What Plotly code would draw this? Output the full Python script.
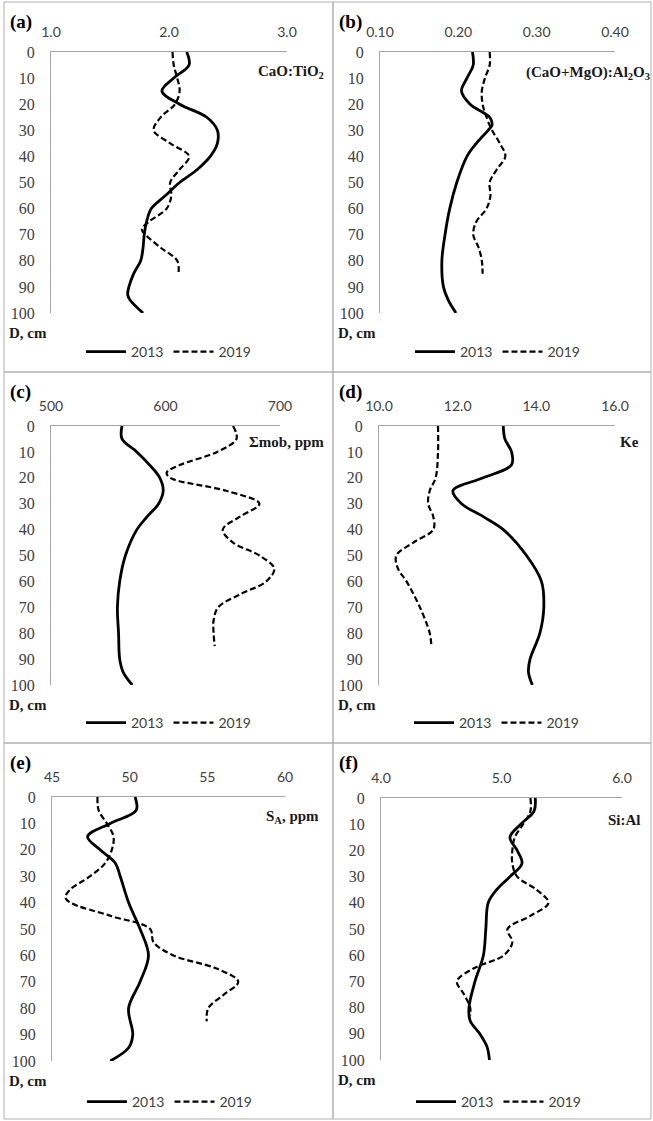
import plotly.graph_objects as go

W, H = 653, 1121

# ---------------- data ----------------
# (a) CaO:TiO2
a13_d = [0, 5, 10, 15, 20, 25, 30, 35, 40, 45, 50, 55, 60, 65, 70, 75, 80, 85, 90, 93, 95, 100]
a13_v = [2.15, 2.17, 2.04, 1.94, 2.09, 2.32, 2.41, 2.41, 2.35, 2.24, 2.09, 1.97, 1.85, 1.81, 1.79, 1.78, 1.76, 1.70, 1.66, 1.65, 1.67, 1.78]
a19_d = [0, 5, 10, 15, 20, 25, 30, 35, 40, 45, 50, 55, 60, 65, 68, 70, 75, 80, 85]
a19_v = [2.03, 2.04, 2.07, 2.09, 2.05, 1.93, 1.87, 2.01, 2.17, 2.09, 2.01, 2.02, 1.98, 1.83, 1.77, 1.80, 1.93, 2.07, 2.08]

# (b) (CaO+MgO):Al2O3
b13_d = [0, 5, 10, 15, 20, 25, 28, 30, 35, 40, 50, 60, 70, 80, 90, 95, 100]
b13_v = [0.218, 0.219, 0.211, 0.204, 0.215, 0.240, 0.243, 0.238, 0.223, 0.211, 0.198, 0.189, 0.183, 0.179, 0.181, 0.187, 0.197]
b19_d = [0, 5, 10, 15, 20, 25, 30, 35, 40, 45, 50, 55, 60, 65, 70, 75, 80, 85]
b19_v = [0.240, 0.240, 0.234, 0.230, 0.231, 0.236, 0.243, 0.253, 0.260, 0.249, 0.240, 0.241, 0.236, 0.223, 0.219, 0.226, 0.230, 0.231]

# (c) Σmob, ppm
c13_d = [0, 5, 10, 15, 20, 25, 30, 35, 40, 50, 60, 70, 80, 90, 95, 100]
c13_v = [562, 562, 575, 586, 595, 598, 594, 584, 575, 565, 560, 558, 559, 560, 563, 571]
c19_d = [0, 5, 10, 15, 18, 20, 25, 30, 35, 40, 45, 50, 55, 60, 65, 70, 75, 80, 85]
c19_v = [659, 662, 645, 613, 601, 604, 653, 682, 665, 650, 659, 682, 695, 688, 665, 646, 642, 642, 643]

# (d) Ke
d13_d = [0, 5, 10, 15, 20, 25, 30, 35, 40, 50, 60, 70, 80, 90, 95, 100]
d13_v = [13.16, 13.20, 13.37, 13.37, 12.65, 11.88, 12.10, 12.65, 13.16, 13.75, 14.13, 14.19, 14.09, 13.84, 13.80, 13.90]
d19_d = [0, 10, 20, 25, 30, 35, 40, 45, 50, 55, 60, 70, 80, 85]
d19_v = [11.50, 11.50, 11.44, 11.29, 11.25, 11.38, 11.38, 10.87, 10.44, 10.48, 10.70, 11.04, 11.29, 11.33]

# (e) SA, ppm
e13_d = [0, 5, 10, 15, 20, 25, 30, 40, 50, 60, 70, 80, 90, 95, 100]
e13_v = [50.35, 50.42, 48.75, 47.29, 48.10, 49.07, 49.39, 49.93, 50.67, 51.21, 50.67, 49.93, 50.20, 49.93, 48.75]
e19_d = [0, 5, 10, 15, 20, 25, 30, 35, 38, 40, 45, 50, 55, 60, 65, 70, 75, 80, 85]
e19_v = [47.93, 48.00, 48.53, 48.96, 48.85, 48.43, 47.46, 46.18, 45.86, 46.18, 48.75, 51.32, 51.53, 52.82, 55.60, 56.99, 56.03, 55.06, 54.96]

# (f) Si:Al
f13_d = [0, 5, 10, 15, 20, 25, 30, 35, 40, 50, 60, 70, 80, 85, 90, 95, 100]
f13_v = [5.28, 5.27, 5.16, 5.07, 5.13, 5.17, 5.07, 4.96, 4.89, 4.87, 4.85, 4.78, 4.73, 4.74, 4.82, 4.88, 4.90]
f19_d = [0, 5, 10, 15, 20, 25, 30, 35, 40, 45, 50, 55, 60, 65, 70, 75, 80, 83]
f19_v = [5.24, 5.24, 5.18, 5.11, 5.09, 5.09, 5.13, 5.29, 5.39, 5.24, 5.05, 5.09, 5.02, 4.77, 4.63, 4.69, 4.74, 4.74]

series_names = ["2013", "2019"]
panel_letters = ["(a)", "(b)", "(c)", "(d)", "(e)", "(f)"]
panel_titles = ["CaO:TiO<sub>2</sub>", "(CaO+MgO):Al<sub>2</sub>O<sub>3</sub>",
                "Σmob, ppm", "Ke", "S<sub>A</sub>, ppm", "Si:Al"]
x_ranges = [[1.0, 3.0], [0.10, 0.40], [500, 700], [10.0, 16.0], [45, 60], [4.0, 6.0]]
x_dticks = [1.0, 0.10, 100, 2.0, 5, 1.0]
x_formats = [".1f", ".2f", "d", ".1f", "d", ".1f"]
depth_label = "D, cm"

data = [(a13_d, a13_v, a19_d, a19_v), (b13_d, b13_v, b19_d, b19_v),
        (c13_d, c13_v, c19_d, c19_v), (d13_d, d13_v, d19_d, d19_v),
        (e13_d, e13_v, e19_d, e19_v), (f13_d, f13_v, f19_d, f19_v)]

# ---------------- layout geometry (pixels) ----------------
areas = [(51, 287, 52, 313), (380, 615, 52, 313),
         (51, 280, 426, 685), (379, 615, 426, 685),
         (52, 285, 797, 1061), (381, 622, 798, 1060)]
frames = [(4, 333, 2, 372), (333, 651, 2, 372),
          (4, 333, 372, 743), (333, 651, 372, 743),
          (4, 333, 743, 1119), (333, 651, 743, 1119)]
title_pos = [(326, 72), (652, 73), (326, 442), (641, 442), (321, 817), (643, 820)]
legend_y = [352, 352, 723, 723, 1102, 1102]


def px(x):
    return x / W


def py(y):
    return 1 - y / H


fig = go.Figure()
annotations = []
shapes = []
layout_axes = {}

GRAY_TXT = "#404040"
AXIS_GRAY = "#a6a6a6"

for i in range(6):
    n = "" if i == 0 else str(i + 1)
    xa, ya = "x" + n, "y" + n
    lg = "legend" + n
    d13, v13, d19, v19 = data[i]
    fig.add_trace(go.Scatter(x=v13, y=d13, mode="lines", name=series_names[0],
                             line=dict(color="black", width=2.8, shape="spline", smoothing=1.0),
                             xaxis=xa, yaxis=ya, legend=lg, showlegend=True))
    fig.add_trace(go.Scatter(x=v19, y=d19, mode="lines", name=series_names[1],
                             line=dict(color="black", width=2.2, dash="6px,3px", shape="spline", smoothing=1.0),
                             xaxis=xa, yaxis=ya, legend=lg, showlegend=True))
    L, R, T, B = areas[i]
    layout_axes["xaxis" + n] = dict(
        domain=[px(L), px(R)], range=x_ranges[i], side="top", anchor=ya, automargin=False,
        showline=True, linecolor=AXIS_GRAY, linewidth=1, showgrid=False, zeroline=False,
        ticks="", tickmode="linear", tick0=x_ranges[i][0], dtick=x_dticks[i],
        tickformat=x_formats[i], ticklabelstandoff=8,
        tickfont=dict(family="Lato", size=14, color=GRAY_TXT), fixedrange=True)
    layout_axes["yaxis" + n] = dict(
        domain=[py(B), py(T)], range=[100, 0], anchor=xa, automargin=False,
        showline=True, linecolor=AXIS_GRAY, linewidth=1, showgrid=False, zeroline=False,
        ticks="", tickmode="linear", tick0=0, dtick=10, ticklabelstandoff=12,
        tickfont=dict(family="Liberation Serif", size=16, color=GRAY_TXT), fixedrange=True)
    layout_axes[lg] = dict(
        orientation="h", x=px(L + 30), y=py(legend_y[i]), xanchor="left", yanchor="middle",
        xref="paper", yref="paper", bgcolor="rgba(0,0,0,0)", borderwidth=0,
        font=dict(family="Lato", size=14, color=GRAY_TXT), itemwidth=40)

    fl, fr, ft, fb = frames[i]
    shapes.append(dict(type="rect", xref="paper", yref="paper",
                       x0=px(fl), x1=px(fr), y0=py(fb), y1=py(ft),
                       line=dict(color="#b0b0b0", width=1), fillcolor="rgba(0,0,0,0)"))
    annotations.append(dict(text="<b>" + panel_letters[i] + "</b>", xref="paper", yref="paper",
                            x=px(fl + 4), y=py(ft + 20), xanchor="left", yanchor="middle",
                            showarrow=False, font=dict(family="Liberation Serif", size=19, color="black")))
    tx, ty = title_pos[i]
    annotations.append(dict(text="<b>" + panel_titles[i] + "</b>", xref="paper", yref="paper",
                            x=px(tx), y=py(ty), xanchor="right", yanchor="middle",
                            showarrow=False, font=dict(family="Liberation Serif", size=15, color="#1a1a1a")))
    annotations.append(dict(text="<b>" + depth_label + "</b>", xref="paper", yref="paper",
                            x=px(fl + 3), y=py(B + 20), xanchor="left", yanchor="middle",
                            showarrow=False, font=dict(family="Liberation Serif", size=15, color="#1a1a1a")))

fig.update_layout(
    width=W, height=H, margin=dict(l=0, r=0, t=0, b=0, pad=0, autoexpand=False),
    paper_bgcolor="white", plot_bgcolor="white",
    annotations=annotations, shapes=shapes, **layout_axes)

fix_css = ("var s=document.createElement('style');"
           "s.textContent='html,body{margin:0!important;padding:0!important;overflow:hidden!important;}';"
           "document.head.appendChild(s);")

fig.write_html("out.html", config={"displayModeBar": False, "staticPlot": True},
               post_script=fix_css)
